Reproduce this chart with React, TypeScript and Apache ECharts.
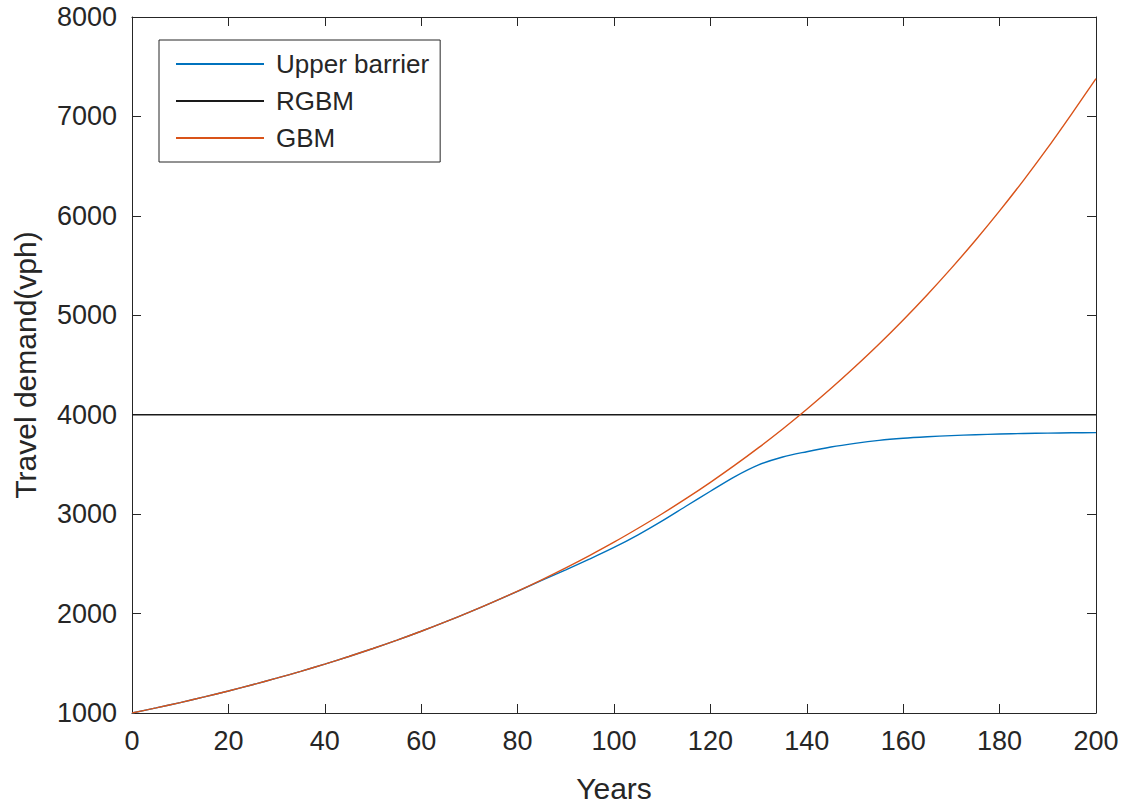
import React, { useEffect, useRef } from "react";
import * as echarts from "echarts";

const YEARS = [0, 5, 10, 15, 20, 25, 30, 35, 40, 45, 50, 55, 60, 65, 70, 75, 80, 85, 90, 95, 100, 105, 110, 115, 120, 125, 130, 135, 140, 145, 150, 155, 160, 165, 170, 175, 180, 185, 190, 195, 200];
const UPPER_BARRIER = [1000, 1051, 1105, 1162, 1221, 1284, 1350, 1419, 1492, 1568, 1649, 1733, 1822, 1916, 2014, 2117, 2224, 2333, 2440, 2550, 2665, 2792, 2932, 3082, 3230, 3375, 3495, 3575, 3628, 3675, 3712, 3742, 3763, 3778, 3790, 3799, 3806, 3811, 3815, 3818, 3820];
const RGBM = [4000, 4000];
const RGBM_YEARS = [0, 200];
const GBM = [1000, 1051, 1105, 1162, 1221, 1284, 1350, 1419, 1492, 1568, 1649, 1733, 1822, 1916, 2014, 2117, 2226, 2340, 2460, 2586, 2718, 2858, 3004, 3158, 3320, 3490, 3669, 3857, 4055, 4263, 4482, 4711, 4953, 5207, 5474, 5755, 6050, 6360, 6686, 7029, 7380];
const SERIES_NAMES = ["Upper barrier", "RGBM", "GBM"];

const AX = "#262626";
const FONT = "Liberation Sans, Arial, Helvetica, sans-serif";

export default function App() {
  const ref = useRef<HTMLDivElement>(null);
  useEffect(() => {
    if (!ref.current) return;
    const chart = echarts.init(ref.current, null, { renderer: "svg" });
    const xCommon = {
      type: "value" as const,
      min: 0,
      max: 200,
      interval: 20,
      splitLine: { show: false },
      axisLine: { show: true, onZero: false, lineStyle: { color: AX, width: 1 } },
      axisTick: { show: true, inside: true, length: 9, lineStyle: { color: AX } },
    };
    const yCommon = {
      type: "value" as const,
      min: 1000,
      max: 8000,
      interval: 1000,
      splitLine: { show: false },
      axisLine: { show: true, onZero: false, lineStyle: { color: AX, width: 1 } },
      axisTick: { show: true, inside: true, length: 9, lineStyle: { color: AX } },
    };
    chart.setOption({
      animation: false,
      backgroundColor: "#ffffff",
      textStyle: { fontFamily: FONT },
      grid: { left: 132, right: 29, top: 17, bottom: 90, containLabel: false, outerBoundsMode: "none" },
      legend: {
        orient: "vertical",
        left: 159,
        top: 40,
        data: SERIES_NAMES,
        itemWidth: 88,
        itemHeight: 14,
        itemGap: 11,
        padding: [11, 11, 11, 16],
        borderColor: AX,
        borderWidth: 1,
        backgroundColor: "#ffffff",
        itemStyle: { opacity: 0 },
        textStyle: { fontSize: 26, color: AX, fontFamily: FONT, padding: [0, 0, 0, 7] },
      },
      xAxis: [
        {
          ...xCommon,
          position: "bottom",
          name: "Years",
          nameLocation: "middle",
          nameGap: 60,
          nameTextStyle: { fontSize: 30, color: AX, fontFamily: FONT },
          axisLabel: { fontSize: 27, color: AX, margin: 14, fontFamily: FONT },
        },
        { ...xCommon, position: "top", axisLabel: { show: false } },
      ],
      yAxis: [
        {
          ...yCommon,
          position: "left",
          name: "Travel demand(vph)",
          nameLocation: "middle",
          nameGap: 92,
          nameTextStyle: { fontSize: 30, color: AX, fontFamily: FONT },
          axisLabel: { fontSize: 27, color: AX, margin: 15, fontFamily: FONT, formatter: (v: number) => String(v) },
        },
        { ...yCommon, position: "right", axisLabel: { show: false } },
      ],
      series: [
        {
          name: SERIES_NAMES[0],
          type: "line",
          symbol: "none",
          smooth: 0.3,
          data: YEARS.map((y, i) => [y, UPPER_BARRIER[i]]),
          lineStyle: { color: "#0072BD", width: 1.4 },
          itemStyle: { color: "#0072BD" },
          z: 3,
        },
        {
          name: SERIES_NAMES[1],
          type: "line",
          symbol: "none",
          data: RGBM_YEARS.map((y, i) => [y, RGBM[i]]),
          lineStyle: { color: "#1a1a1a", width: 1.4 },
          itemStyle: { color: "#1a1a1a" },
          z: 2,
        },
        {
          name: SERIES_NAMES[2],
          type: "line",
          symbol: "none",
          smooth: 0.3,
          data: YEARS.map((y, i) => [y, GBM[i]]),
          lineStyle: { color: "#D95319", width: 1.4 },
          itemStyle: { color: "#D95319" },
          z: 4,
        },
      ],
    });
    return () => chart.dispose();
  }, []);
  return (
    <div
      ref={ref}
      style={{ position: "absolute", left: 0, top: 0, width: 1125, height: 803, background: "#fff" }}
    />
  );
}
